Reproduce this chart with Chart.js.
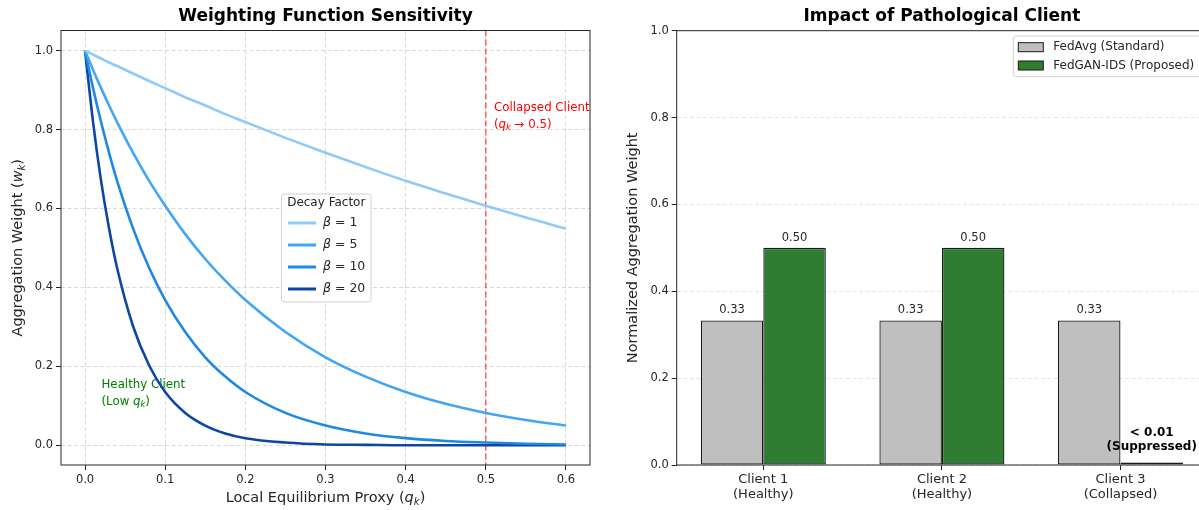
<!DOCTYPE html>
<html>
<head>
<meta charset="utf-8">
<script src="https://cdn.jsdelivr.net/npm/chart.js@4.4.1/dist/chart.umd.min.js"></script>
<style>
  html, body { margin: 0; padding: 0; background: #fff; }
  body { width: 1199px; height: 510px; overflow: hidden; position: relative; }
  #left { position: absolute; left: 0; top: 0; }
  #right { position: absolute; left: 600px; top: 0; }
</style>
</head>
<body>
<canvas id="left" width="600" height="510"></canvas>
<canvas id="right" width="620" height="510"></canvas>
<script>
// ---- left panel data ----
const qValues = [0, 0.01, 0.02, 0.03, 0.04, 0.06, 0.08, 0.1, 0.125, 0.15, 0.175, 0.2, 0.25, 0.3, 0.35, 0.4, 0.45, 0.5, 0.55, 0.6];
const beta1  = [1, 0.990, 0.980, 0.970, 0.961, 0.942, 0.923, 0.905, 0.882, 0.861, 0.839, 0.819, 0.779, 0.741, 0.705, 0.670, 0.638, 0.607, 0.577, 0.549];
const beta5  = [1, 0.951, 0.905, 0.861, 0.819, 0.741, 0.670, 0.607, 0.535, 0.472, 0.417, 0.368, 0.287, 0.223, 0.174, 0.135, 0.105, 0.082, 0.064, 0.050];
const beta10 = [1, 0.905, 0.819, 0.741, 0.670, 0.549, 0.449, 0.368, 0.287, 0.223, 0.174, 0.135, 0.082, 0.050, 0.030, 0.018, 0.011, 0.007, 0.004, 0.002];
const beta20 = [1, 0.819, 0.670, 0.549, 0.449, 0.301, 0.202, 0.135, 0.082, 0.050, 0.030, 0.018, 0.007, 0.002, 0.001, 0, 0, 0, 0, 0];
const betaLabels = ['1', '5', '10', '20'];
const qTicks = [0, 0.1, 0.2, 0.3, 0.4, 0.5, 0.6];
const wTicks = [0, 0.2, 0.4, 0.6, 0.8, 1.0];
const collapseQ = 0.5;

// ---- right panel data ----
const clientNames = ['Client 1', 'Client 2', 'Client 3'];
const clientStates = ['(Healthy)', '(Healthy)', '(Collapsed)'];
const fedAvg = [0.333, 0.333, 0.333];
const fedGan = [0.5, 0.5, 0.006];
const suppressedNote = ['< 0.01', '(Suppressed)'];
const seriesNames = ['FedAvg (Standard)', 'FedGAN-IDS (Proposed)'];

Chart.defaults.font.family = "'DejaVu Sans', sans-serif";
Chart.defaults.color = '#262626';

const FONT = '"DejaVu Sans"';
const lineColors = ['#90CAF9', '#42A5F5', '#1E88E5', '#0D47A1'];

// draws text with italic / subscript pieces, like matplotlib mathtext
function drawRich(ctx, parts, x, y, size, opts) {
  const fontOf = st => (st === 'i' || st === 'sub' ? 'italic ' : st === 'b' ? 'bold ' : '') +
    (st === 'sub' ? size * 0.7 : size) + 'px ' + FONT;
  let w = 0;
  parts.forEach(p => { ctx.font = fontOf(p[1]); w += ctx.measureText(p[0]).width; });
  let cx = opts.align === 'center' ? -w / 2 : 0;
  ctx.save();
  ctx.translate(x, y);
  if (opts.rotate) ctx.rotate(opts.rotate);
  ctx.fillStyle = opts.color || '#262626';
  ctx.textBaseline = 'middle';
  ctx.textAlign = 'left';
  parts.forEach(p => {
    ctx.font = fontOf(p[1]);
    ctx.fillText(p[0], cx, p[1] === 'sub' ? size * 0.28 : 0);
    cx += ctx.measureText(p[0]).width;
  });
  ctx.restore();
}

const leftDeco = {
  id: 'leftDeco',
  beforeDatasetsDraw(chart) {
    const ctx = chart.ctx, a = chart.chartArea, xs = chart.scales.x;
    // collapse threshold
    const px = xs.getPixelForValue(collapseQ);
    ctx.save();
    ctx.strokeStyle = 'rgba(255,0,0,0.6)';
    ctx.lineWidth = 1.5;
    ctx.setLineDash([6, 3]);
    ctx.beginPath(); ctx.moveTo(px, a.top); ctx.lineTo(px, a.bottom); ctx.stroke();
    ctx.restore();
    drawRich(ctx, [['Healthy Client', '']], 101.5, 385, 11.8, {color: 'green'});
    drawRich(ctx, [['(Low ', ''], ['q', 'i'], ['k', 'sub'], [')', '']], 101.5, 402, 11.8, {color: 'green'});
  },
  afterDatasetsDraw(chart) {
    const ctx = chart.ctx, a = chart.chartArea;
    ctx.save();
    ctx.beginPath(); ctx.rect(0, 0, a.right, chart.height); ctx.clip();
    drawRich(ctx, [['Collapsed Client', '']], 494, 108, 11.8, {color: 'red'});
    drawRich(ctx, [['(', ''], ['q', 'i'], ['k', 'sub'], [' \u2192 0.5)', '']], 494, 125, 11.8, {color: 'red'});
    ctx.restore();
    // spines
    ctx.save();
    ctx.strokeStyle = '#262626';
    ctx.lineWidth = 1;
    ctx.strokeRect(a.left, a.top, a.right - a.left, a.bottom - a.top);
    // legend
    const bx = 281.5, by = 194, bw = 89.5, bh = 108;
    ctx.fillStyle = 'rgba(255,255,255,0.85)';
    ctx.strokeStyle = '#d0d0d0';
    ctx.beginPath(); ctx.roundRect(bx, by, bw, bh, 3); ctx.fill(); ctx.stroke();
    ctx.restore();
    drawRich(ctx, [['Decay Factor', '']], bx + bw / 2, 203, 12, {align: 'center'});
    betaLabels.forEach((b, i) => {
      const y = 223 + i * 22;
      ctx.save();
      ctx.strokeStyle = lineColors[i];
      ctx.lineWidth = 3;
      ctx.beginPath(); ctx.moveTo(288, y); ctx.lineTo(316, y); ctx.stroke();
      ctx.restore();
      drawRich(ctx, [['\u03b2', 'i'], [' = ' + b, '']], 323, y, 12.5, {});
    });
  },
  afterDraw(chart) {
    const ctx = chart.ctx, a = chart.chartArea;
    const cx = (a.left + a.right) / 2;
    drawRich(ctx, [['Weighting Function Sensitivity', 'b']], cx, 17, 17, {align: 'center', color: '#000'});
    drawRich(ctx, [['Local Equilibrium Proxy (', ''], ['q', 'i'], ['k', 'sub'], [')', '']], cx, 498, 14.5, {align: 'center'});
    drawRich(ctx, [['Aggregation Weight (', ''], ['w', 'i'], ['k', 'sub'], [')', '']], 18, (a.top + a.bottom) / 2, 14.5, {align: 'center', rotate: -Math.PI / 2});
  }
};

const series = [beta1, beta5, beta10, beta20];
new Chart(document.getElementById('left'), {
  type: 'line',
  data: {
    datasets: series.map((s, i) => ({
      label: '\u03b2 = ' + betaLabels[i],
      data: s.map((v, j) => ({x: qValues[j], y: v})),
      borderColor: lineColors[i],
      borderWidth: 2.6,
      pointRadius: 0,
      cubicInterpolationMode: 'monotone',
      fill: false
    }))
  },
  options: {
    responsive: false,
    animation: false,
    devicePixelRatio: 1,
    layout: {padding: {top: 30.5, right: 10, left: 0, bottom: 0}},
    plugins: {legend: {display: false}, title: {display: false}, tooltip: {enabled: false}},
    scales: {
      x: {
        type: 'linear', min: -0.03, max: 0.63,
        afterBuildTicks: s => { s.ticks = qTicks.map(v => ({value: v})); },
        afterFit: s => { s.height = 45; },
        ticks: {callback: v => v.toFixed(1), font: {size: 11.5}, padding: 3, autoSkip: false, maxRotation: 0},
        grid: {color: 'rgba(176,176,176,0.6)', lineWidth: 0.8, tickColor: '#262626', tickLength: 5, tickWidth: 1},
        border: {display: false, dash: [4, 2.5]}
      },
      y: {
        type: 'linear', min: -0.05, max: 1.051,
        afterBuildTicks: s => { s.ticks = wTicks.map(v => ({value: v})); },
        afterFit: s => { s.width = 61; },
        ticks: {callback: v => v.toFixed(1), font: {size: 11.5}, padding: 3},
        grid: {color: 'rgba(176,176,176,0.6)', lineWidth: 0.8, tickColor: '#262626', tickLength: 5, tickWidth: 1},
        border: {display: false, dash: [4, 2.5]}
      }
    }
  },
  plugins: [leftDeco]
});

// ---- right panel ----
const barColors = ['#bfbfbf', '#2e7d32'];
const rightDeco = {
  id: 'rightDeco',
  afterDatasetsDraw(chart) {
    const ctx = chart.ctx, a = chart.chartArea;
    ctx.save();
    ctx.strokeStyle = '#262626';
    ctx.lineWidth = 1;
    ctx.strokeRect(a.left, a.top, a.right - a.left, a.bottom - a.top);
    ctx.restore();
    // value labels
    chart.data.datasets.forEach((ds, di) => {
      chart.getDatasetMeta(di).data.forEach((bar, i) => {
        const v = ds.data[i].y;
        if (v < 0.01) {
          drawRich(ctx, [[suppressedNote[0], 'b']], bar.x, 432.5, 12, {align: 'center', color: '#000'});
          drawRich(ctx, [[suppressedNote[1], 'b']], bar.x, 446.5, 12, {align: 'center', color: '#000'});
        } else {
          drawRich(ctx, [[v.toFixed(2), '']], bar.x, bar.y - 10, 11.5, {align: 'center'});
        }
      });
    });
    // legend (upper right)
    const bx = 413.3, by = 36, bw = 188, bh = 40.7;
    ctx.save();
    ctx.fillStyle = 'rgba(255,255,255,0.85)';
    ctx.strokeStyle = '#d0d0d0';
    ctx.beginPath(); ctx.roundRect(bx, by, bw, bh, 3); ctx.fill(); ctx.stroke();
    seriesNames.forEach((n, i) => {
      const y = 47.2 + i * 18.3;
      ctx.fillStyle = barColors[i];
      ctx.strokeStyle = '#1a1a1a';
      ctx.fillRect(418.3, y - 4.5, 25, 9);
      ctx.strokeRect(418.3, y - 4.5, 25, 9);
    });
    ctx.restore();
    seriesNames.forEach((n, i) => {
      drawRich(ctx, [[n, '']], 453.3, 47.2 + i * 18.3, 12, {});
    });
  },
  afterDraw(chart) {
    const ctx = chart.ctx, a = chart.chartArea;
    drawRich(ctx, [['Impact of Pathological Client', 'b']], (a.left + a.right) / 2, 17, 17, {align: 'center', color: '#000'});
    drawRich(ctx, [['Normalized Aggregation Weight', '']], 33, (a.top + a.bottom) / 2, 14.5, {align: 'center', rotate: -Math.PI / 2});
  }
};

new Chart(document.getElementById('right'), {
  type: 'bar',
  data: {
    datasets: [fedAvg, fedGan].map((vals, di) => ({
      label: seriesNames[di],
      data: vals.map((v, i) => ({x: i, y: v})),
      backgroundColor: barColors[di],
      borderColor: '#1a1a1a',
      borderWidth: 1.3,
      borderSkipped: false,
      categoryPercentage: 0.7,
      barPercentage: 1.0
    }))
  },
  options: {
    responsive: false,
    animation: false,
    devicePixelRatio: 1,
    layout: {padding: {top: 30.7, right: 12.9, left: 0, bottom: 0}},
    plugins: {legend: {display: false}, title: {display: false}, tooltip: {enabled: false}},
    scales: {
      x: {
        type: 'linear', min: -0.485, max: 2.485, offset: false,
        afterBuildTicks: s => { s.ticks = clientNames.map((c, i) => ({value: i})); },
        afterFit: s => { s.height = 45; },
        ticks: {callback: v => [clientNames[v], clientStates[v]], font: {size: 13, lineHeight: 1.17}, padding: 2, autoSkip: false, maxRotation: 0},
        grid: {offset: false, drawOnChartArea: false, tickColor: '#262626', tickLength: 5, tickWidth: 1},
        border: {display: false}
      },
      y: {
        type: 'linear', min: 0, max: 1,
        afterBuildTicks: s => { s.ticks = wTicks.map(v => ({value: v})); },
        afterFit: s => { s.width = 76.7; },
        ticks: {callback: v => v.toFixed(1), font: {size: 11.5}, padding: 3},
        grid: {color: 'rgba(176,176,176,0.45)', lineWidth: 0.8, tickColor: '#262626', tickLength: 5, tickWidth: 1},
        border: {display: false, dash: [4, 2.5]}
      }
    }
  },
  plugins: [rightDeco]
});
</script>
</body>
</html>
